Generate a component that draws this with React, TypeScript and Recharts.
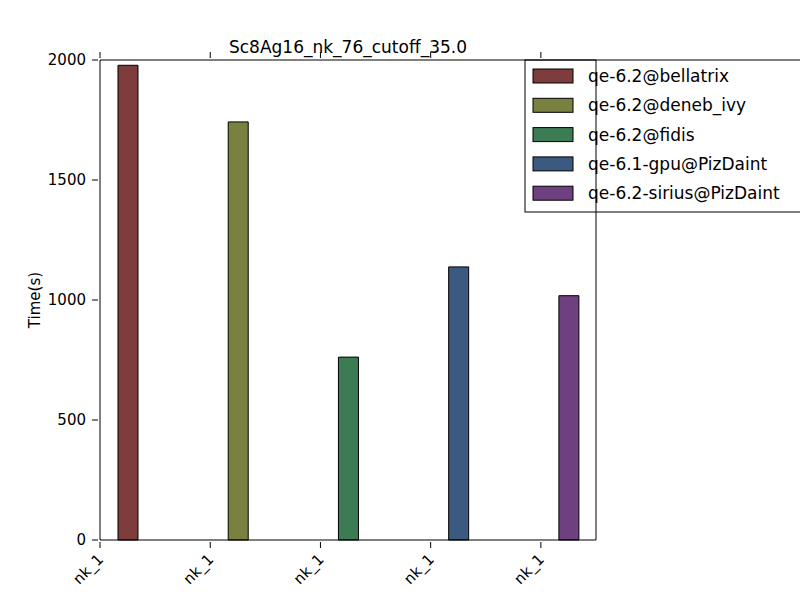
import { Bar, BarChart, Cell, XAxis, YAxis } from 'recharts'

const series = [
  'qe-6.2@bellatrix',
  'qe-6.2@deneb_ivy',
  'qe-6.2@fidis',
  'qe-6.1-gpu@PizDaint',
  'qe-6.2-sirius@PizDaint',
]
const times = [1978, 1742, 762, 1138, 1018]
const colors = ['#7f3c3c', '#7a8040', '#3c7c55', '#3c5a80', '#6f4080']
const xTicks = [0, 1, 2, 3, 4]
const tickLabels = ['nk_1', 'nk_1', 'nk_1', 'nk_1', 'nk_1']
const yTicks = [0, 500, 1000, 1500, 2000]

const data = series.map((name, i) => ({ name, x: i + 0.255, time: times[i] }))
const font = 'DejaVu Sans, sans-serif'

function LeftTick(props: any) {
  const { x, y, payload } = props
  return (
    <g>
      <line x1={x} x2={x + 6} y1={y} y2={y} stroke="#000" />
      <text x={x - 6} y={y} dy={5} textAnchor="end" fontSize={15} fontFamily={font}>
        {payload.value}
      </text>
    </g>
  )
}

function RightTick(props: any) {
  const { x, y } = props
  return <line x1={x - 6} x2={x} y1={y} y2={y} stroke="#000" />
}

function BottomTick(props: any) {
  const { x, y, payload, index } = props
  return (
    <g>
      <line x1={x} x2={x} y1={y} y2={y - 6} stroke="#000" />
      <text
        x={x}
        y={y + 8}
        textAnchor="end"
        fontSize={15}
        fontFamily={font}
        transform={`rotate(-45 ${x} ${y + 8})`}
        dy={6}
      >
        {tickLabels[index] ?? payload.value}
      </text>
    </g>
  )
}

function TopTick(props: any) {
  const { x, y } = props
  return <line x1={x} x2={x} y1={y} y2={y + 6} stroke="#000" />
}

export default function App() {
  return (
    <div style={{ position: 'absolute', left: 0, top: 0, width: 800, height: 600, background: '#fff', overflow: 'hidden' }}>
      <BarChart width={800} height={600} data={data} margin={{ top: 59, right: 203, bottom: 0, left: 99 }}>
        <XAxis
          xAxisId="b"
          dataKey="x"
          type="number"
          domain={[0, 4.5]}
          ticks={xTicks}
          tick={<BottomTick />}
          tickLine={false}
          stroke="#000"
          height={60}
          allowDataOverflow
        />
        <XAxis
          xAxisId="t"
          orientation="top"
          dataKey="x"
          type="number"
          domain={[0, 4.5]}
          ticks={xTicks}
          tick={<TopTick />}
          tickLine={false}
          stroke="#000"
          height={1}
        />
        <YAxis
          yAxisId="l"
          domain={[0, 2000]}
          ticks={yTicks}
          tick={<LeftTick />}
          tickLine={false}
          stroke="#000"
          width={1}
        />
        <YAxis
          yAxisId="r"
          orientation="right"
          domain={[0, 2000]}
          ticks={yTicks}
          tick={<RightTick />}
          tickLine={false}
          stroke="#000"
          width={1}
        />
        <Bar dataKey="time" xAxisId="b" yAxisId="l" barSize={20} stroke="#000" isAnimationActive={false}>
          {data.map((d, i) => (
            <Cell key={d.name} fill={colors[i]} />
          ))}
        </Bar>
        <text x={348} y={53} textAnchor="middle" fontSize={17} fontFamily={font}>
          Sc8Ag16_nk_76_cutoff_35.0
        </text>
        <text x={40} y={300} textAnchor="middle" fontSize={15} fontFamily={font} transform="rotate(-90 40 300)">
          Time(s)
        </text>
        <g>
          <rect x={525} y={60} width={290} height={152} fill="#fff" stroke="#000" />
          {series.map((name, i) => (
            <g key={name}>
              <rect x={533} y={69 + i * 29.3} width={40} height={14} fill={colors[i]} stroke="#000" />
              <text x={588} y={82 + i * 29.3} fontSize={17} fontFamily={font}>
                {name}
              </text>
            </g>
          ))}
        </g>
      </BarChart>
    </div>
  )
}
